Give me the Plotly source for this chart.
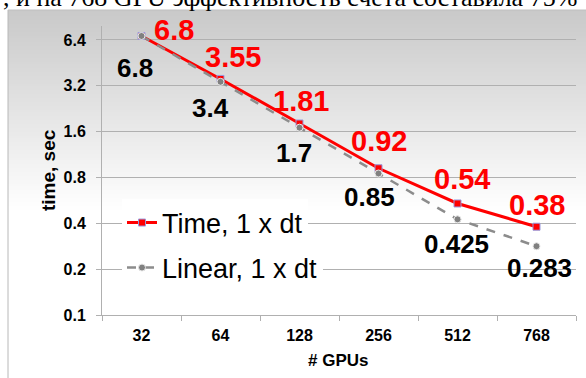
import math
import plotly.graph_objects as go

# ---- data ----
gpus = ["32", "64", "128", "256", "512", "768"]
time_sec = [6.8, 3.55, 1.81, 0.92, 0.54, 0.38]
linear_sec = [6.8, 3.4, 1.7, 0.85, 0.425, 0.283]
time_labels = ["6.8", "3.55", "1.81", "0.92", "0.54", "0.38"]
linear_labels = ["6.8", "3.4", "1.7", "0.85", "0.425", "0.283"]
y_tickvals = [0.1, 0.2, 0.4, 0.8, 1.6, 3.2, 6.4]
y_ticktext = ["0.1", "0.2", "0.4", "0.8", "1.6", "3.2", "6.4"]
series_names = ["Time, 1 x dt", "Linear, 1 x dt"]
header_text = ", и на 768 GPU эффективность счета составила 75%"

# label offsets (pixels: dx, dy downwards)
time_off = [(32, -6), (12, -22), (1, -23), (0, -27), (4, -24), (0, -22)]
lin_off = [(-7, 32), (-10, 26), (-6, 25), (-9, 24), (-1, 25), (3, 22)]

W, H = 586, 378
L, R, T, B = 102, 576, 26, 315
pw, ph = R - L, B - T


def px(x):
    return (x - L) / pw


def py(y):
    return (B - y) / ph


SANS = "Liberation Sans, Arial, sans-serif"

fig = go.Figure()
fig.add_trace(go.Scatter(
    x=gpus, y=time_sec, name=series_names[0], mode="lines+markers",
    line=dict(color="#ff0000", width=3),
    marker=dict(symbol="square", size=7, color="#ff0000",
                line=dict(color="#9999dd", width=1)),
    legend="legend",
))
fig.add_trace(go.Scatter(
    x=gpus, y=linear_sec, name=series_names[1], mode="lines+markers",
    line=dict(color="#8c8c8c", width=2.5, dash="dash"),
    marker=dict(symbol="circle", size=7, color="#808080",
                line=dict(color="#e8e8e8", width=1)),
    legend="legend2",
))

shapes = []
# gradient background of chart area
y_top, y_end = 10, 212
n = 101
c0, c1 = 0xC9, 0xFF
step = (y_end - y_top) / n
for i in range(n):
    ya = y_top + i * step
    yb = ya + step + 0.6
    c = int(round(c0 + (c1 - c0) * i / (n - 1)))
    col = f"rgb({c},{c},{c})"
    shapes.append(dict(type="rect", xref="paper", yref="paper",
                       x0=px(8), x1=px(W + 2), y0=py(yb), y1=py(ya),
                       fillcolor=col, line=dict(width=0), layer="below"))
# chart area border (left & top)
shapes.append(dict(type="line", xref="paper", yref="paper",
                   x0=px(8), x1=px(8), y0=py(10), y1=py(H + 2),
                   line=dict(color="#b8b8b8", width=1), layer="below"))
shapes.append(dict(type="line", xref="paper", yref="paper",
                   x0=px(8), x1=px(W + 2), y0=py(10), y1=py(10),
                   line=dict(color="#c0c0c0", width=1), layer="below"))

annotations = []
for i in range(len(gpus)):
    dx, dy = time_off[i]
    annotations.append(dict(x=i, y=math.log10(time_sec[i]), xref="x", yref="y",
                            text=time_labels[i], showarrow=False,
                            xshift=dx, yshift=-dy,
                            font=dict(family=SANS, size=29, color="#ff0000", weight="bold")))
    dx, dy = lin_off[i]
    annotations.append(dict(x=i, y=math.log10(linear_sec[i]), xref="x", yref="y",
                            text=linear_labels[i], showarrow=False,
                            xshift=dx, yshift=-dy,
                            font=dict(family=SANS, size=26, color="#000000", weight="bold")))

annotations.append(dict(x=px(48), y=py(170), xref="paper", yref="paper",
                        text="time, sec", textangle=-90, showarrow=False,
                        xanchor="center", yanchor="middle",
                        font=dict(family=SANS, size=19, color="#000000", weight="bold")))
annotations.append(dict(x=px(338), y=py(360), xref="paper", yref="paper",
                        text="# GPUs", showarrow=False,
                        xanchor="center", yanchor="middle",
                        font=dict(family=SANS, size=17, color="#000000", weight="bold")))
annotations.append(dict(x=px(1), y=py(-2.5), xref="paper", yref="paper",
                        text=header_text, showarrow=False,
                        xanchor="left", yanchor="middle",
                        font=dict(family="Liberation Serif, Times New Roman, serif",
                                  size=26, color="#000000")))

fig.update_layout(
    width=W, height=H,
    margin=dict(l=L, r=W - R, t=T, b=H - B, autoexpand=False),
    paper_bgcolor="white",
    plot_bgcolor="rgba(0,0,0,0)",
    shapes=shapes,
    annotations=annotations,
    showlegend=True,
    legend=dict(x=px(122), y=py(223), xanchor="left", yanchor="middle",
                bgcolor="white", borderwidth=0,
                font=dict(family=SANS, size=27, color="#000000")),
    legend2=dict(x=px(122), y=py(268), xanchor="left", yanchor="middle",
                 bgcolor="white", borderwidth=0,
                 font=dict(family=SANS, size=27, color="#000000")),
)
fig.update_xaxes(
    type="category", range=[-0.5, 5.5], showgrid=False, zeroline=False,
    showline=True, linecolor="#b0b0b0", linewidth=1,
    ticks="outside", ticklen=5, tickcolor="#b0b0b0", tickson="boundaries",
    ticklabelstandoff=6,
    tickfont=dict(family=SANS, size=16, color="#000000", weight="bold"),
)
fig.update_yaxes(
    type="log", range=[-1, 0.898], showgrid=True, gridcolor="#b0b0b0", gridwidth=1,
    zeroline=False, showline=True, linecolor="#b0b0b0", linewidth=1,
    ticks="outside", ticklen=5, tickcolor="#b0b0b0",
    tickvals=y_tickvals, ticktext=y_ticktext, ticklabelstandoff=7,
    tickfont=dict(family=SANS, size=16, color="#000000", weight="bold"),
)

# remove the default page margin so the figure fills the window exactly
fig.write_html("out.html", config={"displayModeBar": False},
               post_script="document.body.style.margin='0';")
